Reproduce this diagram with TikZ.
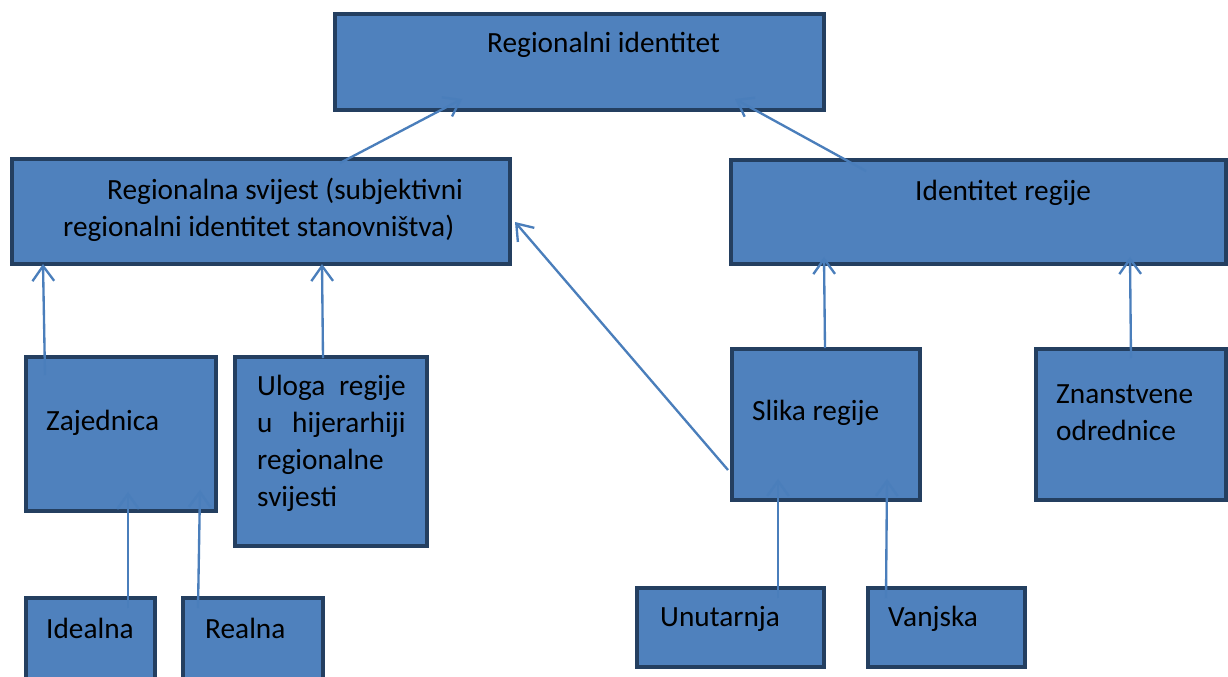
\documentclass[tikz,border=0pt]{standalone}
\usepackage{fontspec}
\setmainfont{Carlito}
\usetikzlibrary{arrows.meta, positioning, calc}
\definecolor{BOXBLUE}{HTML}{4F81BD}
\definecolor{BOXEDGE}{HTML}{243F60}
\definecolor{ARRBLUE}{HTML}{4A7EBB}

\begin{document}
\begin{tikzpicture}[x=0.03cm, y=-0.03cm,
          box/.style={rectangle, draw=BOXEDGE, fill=BOXBLUE, line width=3.4pt},
          txt/.style={inner sep=0pt, anchor=base west, align=left,
                      font=\fontsize{25}{31.5}\selectfont},
          arr/.style={-{Straight Barb[length=0.45cm, width=0.65cm]}, line width=2pt, ARRBLUE}
        ]
          \useasboundingbox (0,0) rectangle (1228,677);
          \clip (0,0) rectangle (1228,677);
          % boxes
          \node[box, minimum width=14.67cm, minimum height=2.88cm] (top) at (579.5,62) {};
          \node[box, minimum width=14.94cm, minimum height=3.15cm] (svijest) at (261,211.5) {};
          \node[box, minimum width=14.85cm, minimum height=3.12cm] (idreg) at (978.5,212) {};
          \node[box, minimum width=5.7cm, minimum height=4.62cm] (zaj) at (121,434) {};
          \node[box, minimum width=5.76cm, minimum height=5.67cm] (uloga) at (331,451.5) {};
          \node[box, minimum width=5.64cm, minimum height=4.53cm] (slika) at (826,424.5) {};
          \node[box, minimum width=5.7cm, minimum height=4.53cm] (znan) at (1131,424.5) {};
          \node[box, minimum width=3.87cm, minimum height=3cm] (ideal) at (90.5,648) {};
          \node[box, minimum width=4.2cm, minimum height=3cm] (realna) at (253,648) {};
          \node[box, minimum width=5.61cm, minimum height=2.37cm] (unut) at (730.5,627.5) {};
          \node[box, minimum width=4.71cm, minimum height=2.37cm] (vanj) at (946.5,627.5) {};
          % texts (base = last line)
          \node[txt] (topT) at (487,53) {Regionalni identitet};
          \node[txt] (svijestT) at (63,236) {\hspace*{1.32cm}Regionalna svijest (subjektivni\\regionalni identitet stanovništva)};
          \node[txt] (idregT) at (915,200) {Identitet regije};
          \node[txt] (zajT) at (46,430) {Zajednica};
          \node[txt] (ulogaT) at (257,506) {\makebox[4.45cm][s]{Uloga regije}\\\makebox[4.45cm][s]{u hijerarhiji}\\regionalne\\svijesti};
          \node[txt] (slikaT) at (752,420) {Slika regije};
          \node[txt] (znanT) at (1056,440) {Znanstvene\\odrednice};
          \node[txt] (idealT) at (46,638) {Idealna};
          \node[txt] (realnaT) at (205,638) {Realna};
          \node[txt] (unutT) at (660,626) {Unutarnja};
          \node[txt] (vanjT) at (888,626) {Vanjska};
          % arrows
          \draw[arr] ($(svijest.north)+(79,6)$) -- ($(top.south)+(-117.5,-13)$);
          \draw[arr] ($(idreg.north)+(-112.5,13)$) -- ($(top.south)+(155.5,-13)$);
          \draw[arr] ($(zaj.north)+(-76,20)$) -- ($(svijest.south)+(-218,-2)$);
          \draw[arr] ($(uloga.north)+(-8,3)$) -- ($(svijest.south)+(61,-2)$);
          \draw[arr] ($(slika.west)+(-2,45.5)$) -- ($(svijest.east)+(3,10.5)$);
          \draw[arr] ($(slika.north)+(-1,1)$) -- ($(idreg.south)+(-154.5,-9)$);
          \draw[arr] ($(znan.north)+(0,11)$) -- ($(idreg.south)+(151.5,-9)$);
          \draw[arr] ($(ideal.north)+(37.5,12)$) -- ($(zaj.south)+(7,-21)$);
          \draw[arr] ($(realna.north)+(-55,12)$) -- ($(zaj.south)+(79,-23)$);
          \draw[arr] ($(unut.north)+(47.5,12)$) -- ($(slika.south)+(-48,-23)$);
          \draw[arr] ($(vanj.north)+(-60.5,12)$) -- ($(slika.south)+(61,-23)$);
        \end{tikzpicture}
\end{document}
